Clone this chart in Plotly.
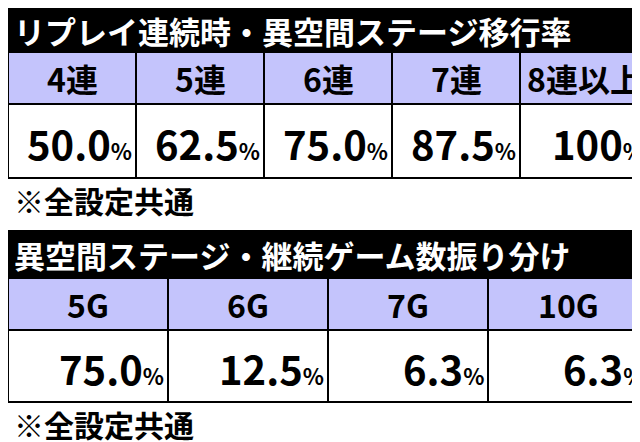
import plotly.graph_objects as go

title1 = "リプレイ連続時・異空間ステージ移行率"
cols1 = ["4連", "5連", "6連", "7連", "8連以上"]
vals1 = ["50.0", "62.5", "75.0", "87.5", "100"]
title2 = "異空間ステージ・継続ゲーム数振り分け"
cols2 = ["5G", "6G", "7G", "10G"]
vals2 = ["75.0", "12.5", "6.3", "6.3"]
note = "※全設定共通"

W, H = 640, 442
FONT = "Noto Sans CJK JP"
HEAD = "#c4c4fc"

fig = go.Figure()
shapes, anns = [], []


def section(title, cols, vals, top, tb, hh, vh):
    # black title bar
    shapes.append(dict(type="rect", x0=0, x1=W, y0=top, y1=top + tb,
                       fillcolor="black", line_width=0))
    anns.append(dict(x=4, y=top + tb / 2, text="<b>%s</b>" % title, showarrow=False,
                     xanchor="left", font=dict(color="white", size=31, family=FONT)))
    n = len(cols)
    cw = W / n
    h0, h1 = top + tb, top + tb + hh
    v1 = h1 + vh
    for i, (c, v) in enumerate(zip(cols, vals)):
        x0 = i * cw
        shapes.append(dict(type="rect", x0=x0, x1=x0 + cw, y0=h0, y1=h1,
                           fillcolor=HEAD, line=dict(color="black", width=2)))
        shapes.append(dict(type="rect", x0=x0, x1=x0 + cw, y0=h1, y1=v1,
                           fillcolor="white", line=dict(color="black", width=2)))
        anns.append(dict(x=x0 + cw / 2, y=(h0 + h1) / 2, text="<b>%s</b>" % c,
                         showarrow=False, font=dict(size=32, family=FONT, color="black")))
        anns.append(dict(x=x0 + cw - 2, y=(h1 + v1) / 2 + 2,
                         text="<b>%s<span style='font-size:22px'>%%</span></b>" % v,
                         showarrow=False, xanchor="right",
                         font=dict(size=40, family=FONT, color="black")))
    anns.append(dict(x=4, y=v1 + 22, text="<b>%s</b>" % note, showarrow=False,
                     xanchor="left", font=dict(size=30, family=FONT, color="black")))


section(title1, cols1, vals1, 0, 44, 52, 74)
section(title2, cols2, vals2, 222, 48, 52, 72)

fig.update_layout(width=W, height=H, margin=dict(l=0, r=0, t=0, b=0),
                  plot_bgcolor="white", paper_bgcolor="white",
                  xaxis=dict(range=[0, W], visible=False, fixedrange=True),
                  yaxis=dict(range=[H, 0], visible=False, fixedrange=True),
                  shapes=shapes, annotations=anns, showlegend=False)
fig.write_html("out.html")
